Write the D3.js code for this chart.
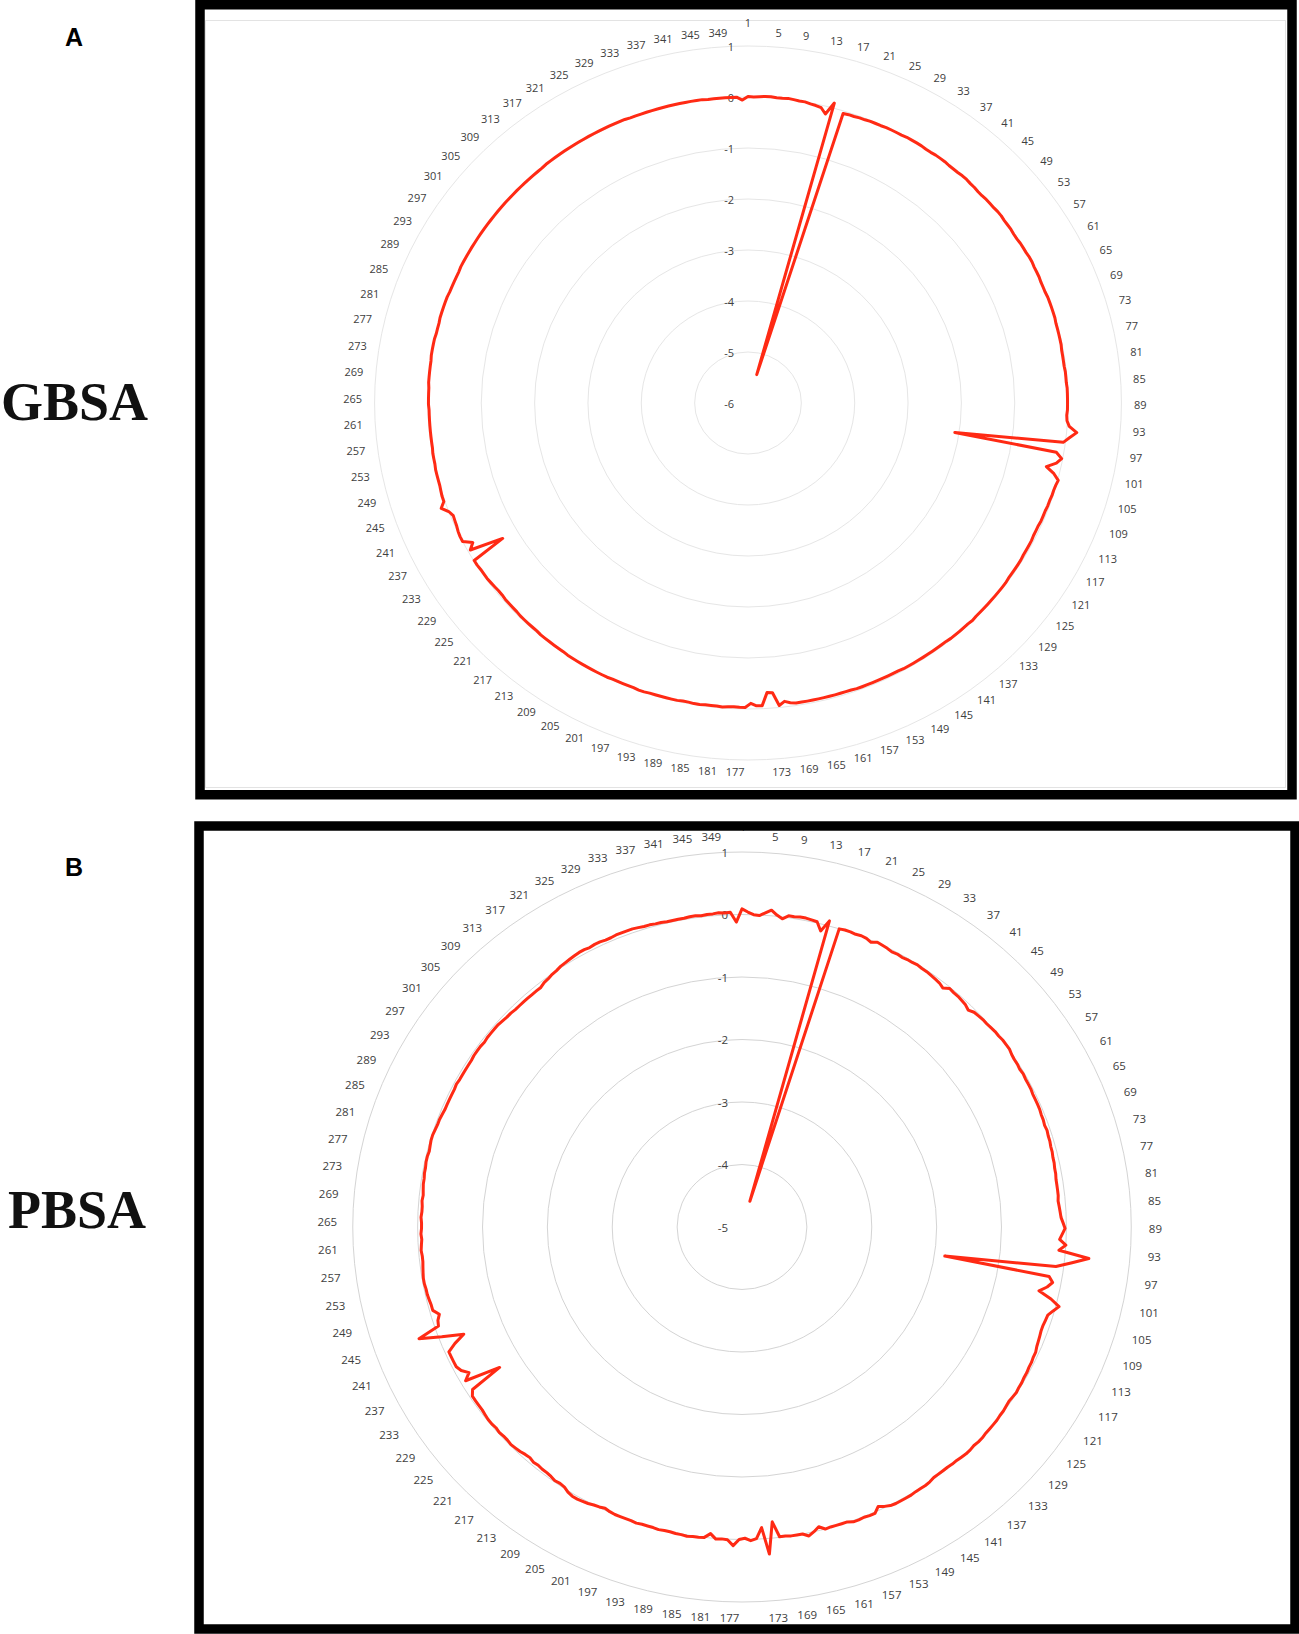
<!DOCTYPE html>
<html><head><meta charset="utf-8">
<script src="https://cdn.jsdelivr.net/npm/d3@7"></script>
<style>body{margin:0;background:#fff}svg{display:block}</style>
</head><body>
<svg id="chart" width="1299" height="1634"></svg>
<script>
// residue numbers 1..351 (categories)
const residues = d3.range(1, 352);
// category tick labels shown around the rim
const tickLabels = [1,5,9,13,17,21,25,29,33,37,41,45,49,53,57,61,65,69,73,77,81,85,89,93,97,101,105,109,113,117,121,125,129,133,137,141,145,149,153,157,161,165,169,173,177,181,185,189,193,197,201,205,209,213,217,221,225,229,233,237,241,245,249,253,257,261,265,269,273,277,281,285,289,293,297,301,305,309,313,317,321,325,329,333,337,341,345,349];
const gbsaTicks = [1,0,-1,-2,-3,-4,-5,-6];
const pbsaTicks = [1,0,-1,-2,-3,-4,-5];

const gbsa = [
0.01,0.00,0.01,0.02,0.02,0.01,0.01,0.02,0.01,0.00,0.00,-0.02,-0.03,-0.05,-0.15,0.10,
-5.42,-0.05,-0.04,-0.04,-0.03,-0.03,-0.02,-0.02,-0.02,-0.01,-0.01,-0.01,-0.01,0.00,0.00,0.00,
0.00,-0.01,-0.01,0.00,0.00,0.00,-0.01,-0.01,-0.01,0.00,0.00,-0.01,-0.01,-0.02,-0.02,-0.01,
-0.01,-0.01,0.00,0.00,-0.01,-0.01,-0.01,-0.02,-0.02,-0.01,-0.01,-0.01,0.00,0.00,-0.01,-0.01,
-0.01,-0.02,-0.02,-0.02,-0.01,-0.01,-0.01,-0.01,-0.01,-0.02,-0.02,-0.02,-0.02,-0.02,-0.03,-0.03,
-0.03,-0.03,-0.02,-0.02,-0.02,-0.01,-0.01,-0.01,-0.01,-0.01,-0.02,-0.01,0.04,0.19,0.07,-0.04,
-2.08,-0.14,-0.02,-0.10,-0.27,-0.10,0.01,-0.01,-0.02,-0.02,-0.03,-0.03,-0.04,-0.04,-0.04,-0.05,
-0.05,-0.05,-0.04,-0.04,-0.04,-0.04,-0.03,-0.03,-0.03,-0.03,-0.03,-0.02,-0.02,-0.02,-0.02,-0.02,
-0.02,-0.02,-0.02,-0.02,-0.01,-0.02,-0.02,-0.02,-0.02,-0.02,-0.03,-0.03,-0.03,-0.03,-0.03,-0.03,
-0.03,-0.03,-0.03,-0.03,-0.04,-0.04,-0.04,-0.04,-0.04,-0.04,-0.04,-0.04,-0.04,-0.05,-0.05,-0.05,
-0.05,-0.05,-0.05,-0.05,-0.05,-0.05,-0.05,-0.05,-0.07,-0.11,-0.04,-0.30,-0.31,-0.06,-0.06,-0.11,
-0.03,-0.03,-0.04,-0.03,-0.02,-0.03,-0.03,-0.03,-0.02,-0.02,-0.03,-0.03,-0.02,-0.02,-0.02,
-0.02,-0.02,-0.02,-0.01,-0.01,-0.02,-0.02,-0.02,-0.02,-0.02,-0.01,-0.01,-0.01,-0.01,-0.01,-0.01,
-0.01,-0.01,-0.01,-0.02,-0.02,-0.02,-0.02,-0.02,-0.02,-0.03,-0.03,-0.03,-0.03,-0.03,-0.04,-0.04,
-0.04,-0.04,-0.05,-0.05,-0.04,-0.03,-0.02,-0.02,-0.02,-0.01,-0.01,-0.69,-0.05,-0.16,0.00,0.00,
-0.01,-0.03,-0.04,-0.05,0.00,0.11,0.02,0.02,0.01,0.00,0.00,0.00,0.00,-0.01,-0.01,-0.01,
-0.02,-0.02,-0.02,-0.02,-0.02,-0.02,-0.02,-0.02,-0.01,-0.01,-0.01,-0.01,0.00,0.00,0.00,0.00,
0.00,0.01,0.01,0.01,0.01,0.00,0.00,0.00,0.01,0.01,0.01,0.01,0.01,0.00,0.00,0.00,
0.00,0.00,0.01,0.01,0.01,0.01,0.01,0.01,0.01,0.01,0.01,0.01,0.01,0.01,0.01,0.01,
0.01,0.01,0.01,0.01,0.01,0.01,0.01,0.01,0.01,0.01,0.02,0.02,0.02,0.02,0.02,0.02,
0.02,0.02,0.02,0.02,0.02,0.02,0.02,0.02,0.02,0.02,0.02,0.01,0.01,0.01,0.01,0.01,
0.01,0.01,0.01,0.01,0.01,0.01,0.01,0.01,0.01,0.00,0.00,0.00,0.00,0.00,0.00,-0.06
];

const pbsa = [
0.09,0.04,0.00,-0.01,0.04,0.09,0.02,-0.03,0.03,0.03,0.04,0.04,0.03,0.02,-0.11,0.08,
-4.57,0.00,0.01,0.01,0.00,0.01,0.00,-0.03,0.01,0.00,-0.01,-0.03,-0.02,-0.03,-0.02,-0.02,
-0.01,-0.02,-0.02,-0.03,-0.04,-0.05,-0.08,-0.02,-0.03,-0.03,-0.04,-0.05,-0.08,-0.04,-0.03,-0.02,
-0.02,-0.01,0.00,0.00,0.01,0.01,0.01,-0.01,-0.02,-0.02,-0.03,-0.02,-0.03,-0.03,-0.03,-0.04,
-0.04,-0.04,-0.04,-0.05,-0.05,-0.06,-0.05,-0.06,-0.06,-0.07,-0.07,-0.08,-0.08,-0.09,-0.09,-0.10,
-0.10,-0.10,-0.10,-0.11,-0.10,-0.09,-0.08,-0.05,-0.02,-0.06,-0.10,0.00,-0.10,0.37,0.12,-0.12,
-1.84,-0.20,-0.13,-0.20,-0.31,-0.10,0.05,-0.02,-0.08,-0.09,-0.10,-0.10,-0.09,-0.08,-0.07,-0.05,
-0.05,-0.04,-0.04,-0.03,-0.03,-0.02,-0.02,-0.01,-0.02,-0.03,-0.02,-0.01,-0.01,0.00,0.00,0.00,
0.00,0.01,0.01,0.00,0.01,0.01,0.00,-0.01,-0.01,-0.02,-0.02,-0.02,-0.02,0.00,0.01,0.01,
0.01,0.02,0.02,0.02,0.02,0.01,-0.02,-0.06,0.02,0.02,0.01,0.02,0.02,-0.01,-0.01,-0.01,
-0.01,0.00,-0.06,0.00,0.05,0.00,0.00,0.00,-0.01,-0.01,-0.26,0.25,-0.18,-0.01,0.02,-0.02,
0.00,0.10,0.01,0.00,0.01,-0.07,0.00,0.01,0.01,0.02,0.01,0.01,0.00,0.00,0.01,
0.00,0.00,0.00,0.01,0.00,0.00,0.00,0.00,-0.01,-0.03,-0.01,0.00,0.02,0.03,0.04,0.04,
0.02,-0.02,-0.03,-0.02,-0.04,-0.05,-0.05,-0.06,-0.05,-0.07,-0.06,-0.04,-0.03,-0.02,-0.03,-0.03,
-0.02,-0.03,-0.02,-0.02,-0.03,-0.04,-0.04,-0.04,-0.04,-0.10,-0.64,-0.08,-0.19,-0.10,-0.06,-0.06,
-0.06,-0.06,-0.20,-0.38,-0.05,0.29,-0.06,-0.08,-0.13,-0.05,-0.05,-0.04,-0.03,-0.03,-0.02,-0.02,
-0.03,-0.04,-0.05,-0.05,-0.04,-0.05,-0.06,-0.05,-0.06,-0.06,-0.05,-0.06,-0.06,-0.05,-0.06,-0.05,
-0.04,-0.04,-0.03,-0.03,-0.02,-0.02,-0.03,-0.02,-0.01,-0.01,-0.02,-0.03,-0.03,-0.04,-0.05,-0.05,
-0.05,-0.05,-0.05,-0.04,-0.05,-0.05,-0.05,-0.05,-0.05,-0.04,-0.04,-0.04,-0.05,-0.04,-0.04,-0.04,
-0.04,-0.05,-0.06,-0.06,-0.07,-0.07,-0.07,-0.07,-0.07,-0.07,-0.07,-0.04,-0.03,-0.01,0.00,0.02,
0.03,0.04,0.05,0.06,0.06,0.05,0.06,0.06,0.05,0.05,0.06,0.06,0.06,0.06,0.05,0.04,
0.04,0.03,0.03,0.02,0.02,0.02,0.02,0.03,0.03,0.02,0.03,0.03,0.04,0.03,0.04,-0.12
];

const svg = d3.select("#chart");
svg.append("rect").attr("width",1299).attr("height",1634).attr("fill","#fff");

const panels = [
  {values: gbsa, ticks: gbsaTicks, cx: 748, cy: 403, outerR: 357, sx: 1.046, labelR: 369, labelDx: 0, topLift: 2.5,
   grid: "#e6e6e6", frame: {x:200, y:4.75, w:1092, h:790}, inner: {x:205.5, y:20.5, w:1080, h:767},
   letter: "A", letterY: 46, name: "GBSA", nameX: 1, nameY: 420, fs: 11},
  {values: pbsa, ticks: pbsaTicks, cx: 742, cy: 1227, outerR: 375, sx: 1.038, labelR: 391, labelDx: 1, topLift: 0.5,
   grid: "#d4d4d4", frame: {x:199, y:826, w:1096, h:803}, inner: null,
   letter: "B", letterY: 876, name: "PBSA", nameX: 8, nameY: 1228, fs: 11.5}
];

panels.forEach(p => {
  const g = svg.append("g");
  const ext = d3.extent(p.ticks);
  const r = d3.scaleLinear().domain(ext).range([0, p.outerR]);
  const ang = d3.scaleLinear().domain([0, residues.length]).range([0, 2 * Math.PI]);
  const X = (a, rad) => p.cx + p.sx * rad * Math.sin(a);
  const Y = (a, rad) => p.cy - rad * Math.cos(a);

  if (p.inner) {
    g.append("rect").attr("x", p.inner.x).attr("y", p.inner.y).attr("width", p.inner.w).attr("height", p.inner.h)
      .attr("fill", "none").attr("stroke", "#e3e3e3").attr("stroke-width", 1);
  }

  // circular gridlines
  g.selectAll("ellipse.grid").data(p.ticks.filter(t => t > ext[0])).join("ellipse")
    .attr("class", "grid").attr("cx", p.cx).attr("cy", p.cy)
    .attr("rx", d => p.sx * r(d)).attr("ry", d => r(d))
    .attr("fill", "none").attr("stroke", p.grid).attr("stroke-width", 1);

  // radial value labels
  g.selectAll("text.rt").data(p.ticks).join("text")
    .attr("class", "rt").attr("x", p.cx - 14).attr("y", d => p.cy - r(d))
    .attr("text-anchor", "end").attr("dominant-baseline", "central")
    .attr("font-family", "'Open Sans', sans-serif").attr("font-size", p.fs).attr("fill", "#404040")
    .text(d => String(d));

  // category labels
  const labs = g.selectAll("text.cat").data(tickLabels).join("text")
    .attr("class", "cat")
    .attr("font-family", "'Open Sans', sans-serif").attr("font-size", p.fs).attr("fill", "#404040")
    .attr("text-anchor", "middle").attr("dominant-baseline", "central")
    .text(d => d);
  labs.each(function(d) {
    const a = ang(residues.indexOf(d));
    const s = Math.sin(a), c = Math.cos(a);
    const w = this.getComputedTextLength();
    let x = X(a, p.labelR) + p.labelDx, y = Y(a, p.labelR) - p.topLift * Math.max(0, c);
    if (Math.abs(s) < 1e-9) {
      y -= 9;
    } else {
      x += Math.sign(s) * w / 2;
    }
    d3.select(this).attr("x", x).attr("y", y);
  });

  // data line
  const line = d3.line()
    .x((d, i) => X(ang(i), r(d)))
    .y((d, i) => Y(ang(i), r(d)))
    .curve(d3.curveLinearClosed);
  g.append("path").datum(p.values).attr("d", line)
    .attr("fill", "none").attr("stroke", "#ff2a14").attr("stroke-width", 3)
    .attr("stroke-linejoin", "round");

  // frame
  g.append("rect").attr("x", p.frame.x).attr("y", p.frame.y).attr("width", p.frame.w).attr("height", p.frame.h)
    .attr("fill", "none").attr("stroke", "#000").attr("stroke-width", 9.5);

  // panel letter & method name
  svg.append("text").attr("x", 74).attr("y", p.letterY).attr("text-anchor", "middle")
    .attr("font-family", "'Liberation Sans', Arial, sans-serif").attr("font-weight", "bold").attr("font-size", 25)
    .attr("fill", "#000").text(p.letter);
  svg.append("text").attr("x", p.nameX).attr("y", p.nameY)
    .attr("font-family", "'Liberation Serif', 'Times New Roman', serif").attr("font-weight", "bold").attr("font-size", 54)
    .attr("fill", "#111").text(p.name);
});
</script>
</body></html>
